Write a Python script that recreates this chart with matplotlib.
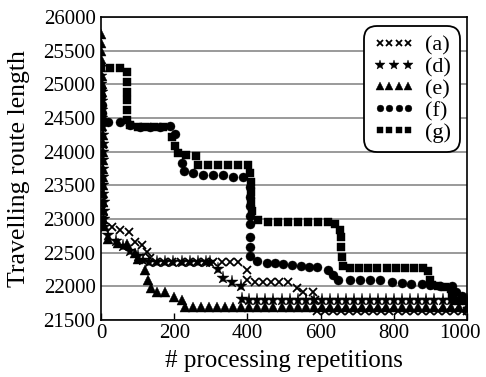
"""Travelling route length vs. processing repetitions, five runs (a), (d)-(g)."""

import matplotlib

matplotlib.use("Agg")
import matplotlib.pyplot as plt
from matplotlib.legend_handler import HandlerLine2D
from matplotlib.transforms import ScaledTranslation

plt.rcParams["font.family"] = ["Liberation Serif", "DejaVu Serif"]

# (a) crosses
a_x = [0, 1, 2, 3, 4, 5, 29, 52, 75, 93, 111, 125, 134,
       150, 172, 195, 217, 240, 262, 285, 307, 330, 352, 375,
       398, 400, 420, 442, 465, 487, 510, 535, 553, 580, 585,
       590, 612, 634, 656, 678, 700, 722, 744, 766, 788, 810,
       832, 854, 876, 898, 920, 942, 964, 986, 1000]
a_y = [23500, 23380, 23250, 23130, 23000, 22900, 22880, 22840, 22810, 22660, 22610, 22510, 22420,
       22360, 22360, 22360, 22360, 22360, 22360, 22360, 22360, 22360, 22360, 22360,
       22240, 22090, 22070, 22070, 22070, 22070, 22070, 21970, 21920, 21920, 21800,
       21640, 21630, 21630, 21630, 21630, 21630, 21630, 21630, 21630, 21630, 21630,
       21630, 21630, 21630, 21630, 21630, 21630, 21630, 21630, 21630]

# (d) stars
d_x = [0, 1, 1, 2, 2, 3, 3, 3, 4, 4, 4, 5, 5, 5, 6, 6, 7, 7, 8, 8,
       20, 40, 60, 80, 100, 115, 130, 152, 175, 197, 220, 242, 264, 286,
       298, 320, 334, 357, 381, 384, 405, 427, 449, 471, 493, 515, 537,
       559, 581, 603, 625, 647, 669, 691, 713, 735, 757, 779, 801, 823,
       845, 867, 889, 911, 933, 955, 977, 1000]
d_y = [25250, 25130, 25000, 24880, 24750, 24620, 24500, 24370, 24250, 24120,
       24000, 23870, 23750, 23620, 23500, 23370, 23250, 23120, 23000, 22880,
       22760, 22680, 22600, 22530, 22450, 22390, 22360, 22360, 22360, 22360,
       22360, 22360, 22360, 22360,
       22360, 22260, 22120, 22070, 22000, 21820, 21800, 21800, 21800, 21800,
       21800, 21800, 21800, 21800, 21800, 21800, 21800, 21800, 21800, 21800,
       21800, 21800, 21800, 21800, 21800, 21800, 21800, 21800, 21800, 21800,
       21800, 21800, 21800, 21800]

# (e) triangles
e_x = [0, 0, 1, 1, 1, 2, 2, 2, 3, 3, 3, 3, 4, 4, 4, 4, 5, 5, 5, 5, 6, 6, 6, 7,
       20, 47, 70, 93, 102, 120, 129, 137, 152, 175, 199, 222,
       229, 251, 273, 295, 317, 339, 361, 383, 405, 427, 449, 471, 493,
       515, 537, 559, 581, 603, 625, 647, 669, 691, 713, 735, 757, 779,
       801, 823, 845, 867, 889, 911, 933, 955, 977, 1000]
e_y = [25750, 25620, 25500, 25380, 25250, 25130, 25000, 24880, 24750, 24630,
       24500, 24380, 24250, 24130, 24000, 23880, 23750, 23630, 23500, 23380,
       23250, 23130, 23000, 22900,
       22710, 22640, 22630, 22490, 22410, 22240, 22090, 21970, 21920, 21920,
       21840, 21800,
       21700, 21700, 21700, 21700, 21700, 21700, 21700, 21700, 21700, 21700,
       21700, 21700, 21700, 21700, 21700, 21700, 21700, 21700, 21700, 21700,
       21700, 21700, 21700, 21700, 21700, 21700, 21700, 21700, 21700, 21700,
       21700, 21700, 21700, 21700, 21700, 21700]

# (f) circles
f_x = [0, 1, 2, 3, 5, 20, 52, 79, 107, 134, 161, 188, 202, 220, 227,
       252, 279, 306, 333, 361, 388, 407, 407, 407, 407, 407, 407, 407,
       407, 425, 452, 475, 498, 522, 545, 568, 591, 621, 634, 648, 680,
       707, 735, 762, 794, 821, 848, 876, 899, 926, 958, 971, 985]
f_y = [24950, 24820, 24700, 24570, 24450, 24440, 24440, 24390, 24370, 24370,
       24370, 24380, 24260, 23830, 23720, 23680, 23650, 23650, 23650, 23630,
       23630, 23480, 23330, 23200, 23050, 22920, 22740, 22590, 22450, 22370,
       22350, 22340, 22330, 22320, 22300, 22290, 22290, 22240, 22170, 22100,
       22090, 22090, 22090, 22090, 22070, 22050, 22030, 22030, 22020, 22010,
       22000, 21920, 21860]

# (g) squares
g_x = [0, 25, 52, 70, 72, 72, 72, 72, 72, 80, 100, 120, 145, 170, 194,
       202, 211, 233, 259, 266, 293, 320, 348, 375, 402, 407, 409, 409,
       411, 413, 430, 457, 484, 511, 538, 565, 592, 619, 640, 653, 656,
       656, 658, 662, 680, 705, 730, 755, 780, 805, 830, 855, 880, 894,
       899, 905, 920, 940, 955, 960, 967, 990]
g_y = [25250, 25240, 25240, 25190, 25040, 24890, 24770, 24620, 24470, 24400,
       24370, 24360, 24360, 24360, 24220, 24090, 23980, 23950, 23930, 23800,
       23800, 23800, 23800, 23800, 23800, 23690, 23550, 23400, 23250, 23120,
       22990, 22950, 22950, 22950, 22950, 22950, 22950, 22950, 22920, 22840,
       22730, 22580, 22430, 22300, 22280, 22280, 22280, 22280, 22280, 22280,
       22280, 22280, 22280, 22230, 22090, 22020, 22000, 21990, 21960, 21880,
       21790, 21790]

labels = ["(a)", "(d)", "(e)", "(f)", "(g)"]
x_ticks = [0, 200, 400, 600, 800, 1000]
y_ticks = [21500, 22000, 22500, 23000, 23500, 24000, 24500, 25000, 25500, 26000]


def main() -> int:
    fig = plt.figure(figsize=(4.86, 3.77), dpi=100)
    ax = fig.add_axes([0.208, 0.151, 0.753, 0.804])

    style = dict(linestyle="none", color="black", markeredgecolor="black")
    la, = ax.plot(a_x, a_y, marker="x", markersize=6, markeredgewidth=1.3,
                  label=labels[0], **style)
    ld, = ax.plot(d_x, d_y, marker="*", markersize=9.5, markeredgewidth=0.3,
                  label=labels[1], **style)
    le, = ax.plot(e_x, e_y, marker="^", markersize=7, markeredgewidth=0.3,
                  label=labels[2], **style)
    lf, = ax.plot(f_x, f_y, marker="o", markersize=6.5, markeredgewidth=0.3,
                  label=labels[3], **style)
    lg, = ax.plot(g_x, g_y, marker="s", markersize=5.8, markeredgewidth=0.3,
                  label=labels[4], **style)

    ax.set_xlim(0, 1000)
    ax.set_ylim(21500, 26000)
    ax.set_xticks(x_ticks)
    ax.set_yticks(y_ticks)
    ax.tick_params(axis="x", direction="in", length=5, width=1, labelsize=15, pad=3)
    ax.tick_params(axis="y", length=0, labelsize=15, pad=4)
    ax.yaxis.grid(True, color="#9a9a9a", linewidth=1.4)
    ax.set_axisbelow(True)
    for spine in ax.spines.values():
        spine.set_linewidth(1.2)

    # the last x label sits a little left of its tick, as in the source
    last = ax.get_xticklabels()[-1]
    last.set_transform(last.get_transform()
                       + ScaledTranslation(-7 / 100, 0, fig.dpi_scale_trans))

    ax.set_xlabel("# processing repetitions", fontsize=18, labelpad=5)
    ax.set_ylabel("Travelling route length", fontsize=18.5, labelpad=10)

    leg = ax.legend(
        handles=[la, ld, le, lf, lg],
        loc="upper right",
        bbox_to_anchor=(0.993, 0.985),
        fontsize=16,
        numpoints=4,
        handler_map={ld: HandlerLine2D(numpoints=3)},
        markerscale=0.75,
        handlelength=1.9,
        handletextpad=0.45,
        labelspacing=0.06,
        borderpad=0.4,
        borderaxespad=0.2,
        fancybox=True,
        framealpha=1,
        edgecolor="black",
    )
    leg.get_frame().set_linewidth(1.3)
    leg.get_frame().set_boxstyle("round", pad=0, rounding_size=0.6)

    fig.savefig("out.png", dpi=100)
    return 0


if __name__ == "__main__":
    raise SystemExit(main())
